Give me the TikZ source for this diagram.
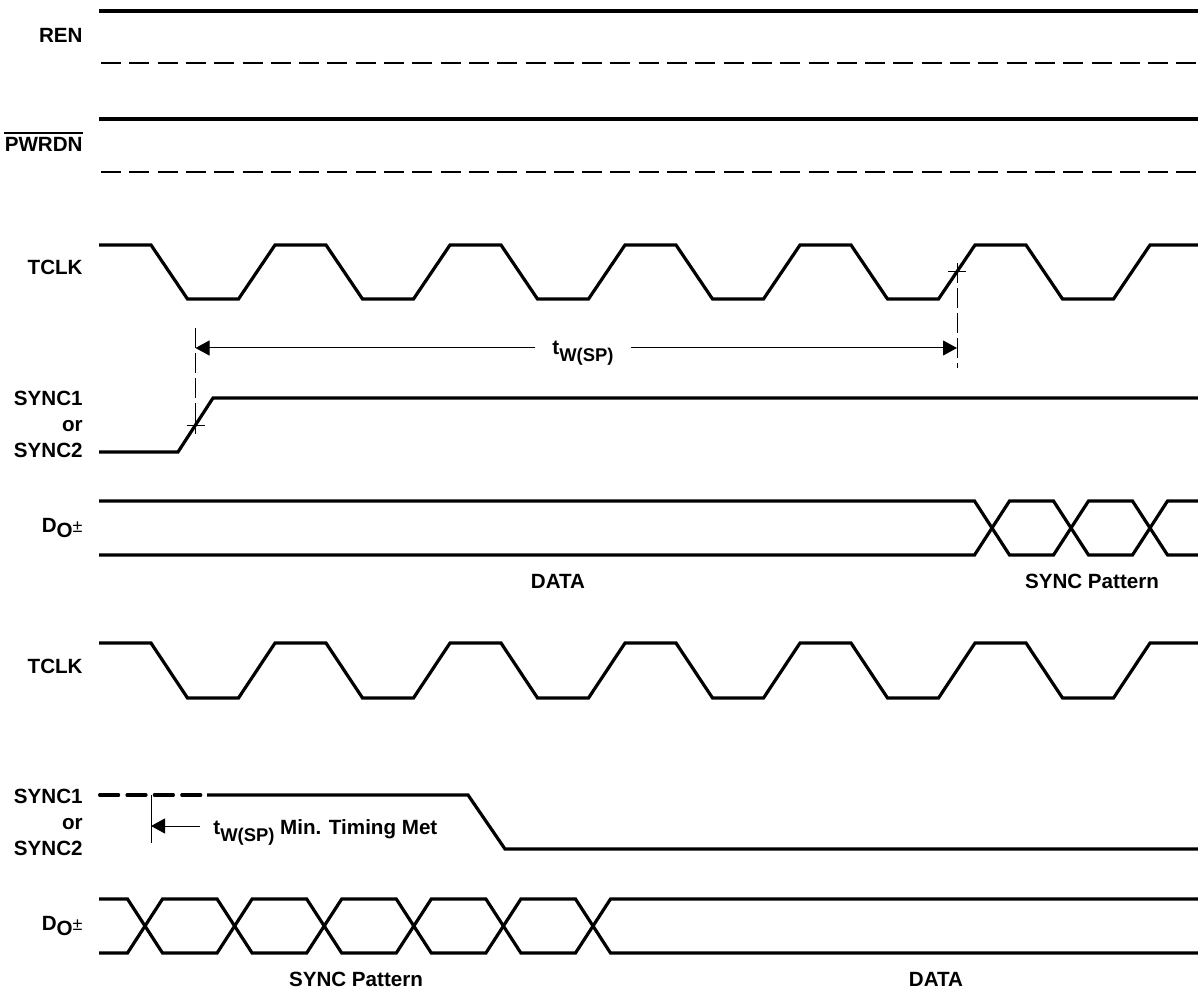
\documentclass[tikz,border=0pt]{standalone}
\usepackage{fontspec}
\setmainfont{Liberation Sans}
\usetikzlibrary{arrows.meta,positioning,calc}
\newcommand{\lblfont}{\bfseries\fontsize{10.3}{12}\selectfont}
\newcommand{\twsp}{t\raisebox{-3.5pt}{\fontsize{9.2}{10}\selectfont W(SP)}}
\newcommand{\dout}{D\raisebox{-2.6pt}{O}{\mdseries\fontsize{9}{10}\selectfont ±}}

\begin{document}
\begin{tikzpicture}[x=0.5pt,y=-0.5pt,
    sig/.style={line width=1.6pt},
    refline/.style={line width=0.7pt,dash pattern=on 10pt off 4.15pt},
    guide/.style={line width=0.5pt,dash pattern=on 10pt off 2.5pt},
    dim/.style={line width=0.5pt,-{Triangle[length=7pt,width=7.5pt]}},
    lbl/.style={font=\lblfont,anchor=base east,inner sep=0pt},
    caption/.style={font=\lblfont,anchor=base,inner sep=0pt}]
  \useasboundingbox (0,0) rectangle (1198,994);

  % enable lines
  \node[lbl] (ren) at (83,43) {REN};
  \draw[sig] (99,11) -- (1198,11);
  \draw[refline] (101,63) -- (1198,63);
  \node[lbl] (pwrdn) at (83,152) {PWRDN};
  \draw[line width=1.2pt] ([yshift=2.2pt]pwrdn.north west) -- ([yshift=2.2pt]pwrdn.north east);
  \draw[sig] (99,119) -- (1198,119);
  \draw[refline] (101,172) -- (1198,172);

  % first case: SYNC asserted
  \node[lbl] (tclka) at (83,275) {TCLK};
  \draw[sig] (99,245) foreach \k in {0,...,5} {
      -- ({151+175*\k},245) -- ({187.5+175*\k},299)
      -- ({238.5+175*\k},299) -- ({275+175*\k},245)} -- (1198,245);

  \node[lbl] (synca1) at (83,405) {SYNC1};
  \node[lbl] (synca0) at (83,431) {or};
  \node[lbl] (synca2) at (83,457) {SYNC2};
  \draw[sig] (99,452) -- (178,452) -- (213,398) -- (1198,398);

  \coordinate (syncedge) at (195.5,425);
  \coordinate (clkedge) at (957,272);
  \draw[guide] (syncedge |- 0,328) -- (syncedge |- 0,434);
  \draw[guide] (clkedge |- 0,263) -- (clkedge |- 0,368);
  \draw[line width=0.5pt] ([xshift=-4.5pt]syncedge) -- ([xshift=4.5pt]syncedge);
  \draw[line width=0.5pt] ([xshift=-4.5pt]clkedge) -- ([xshift=4.5pt]clkedge);
  \coordinate (twl) at (195.5,348);
  \coordinate (twr) at (957,348);
  \node[caption,inner xsep=8.5pt] (tw) at (583,355) {\twsp};
  \draw[dim] (tw.west |- twl) -- (twl);
  \draw[dim] (tw.east |- twr) -- (twr);

  \node[lbl] (doa) at (83,532) {\dout};
  \draw[sig] (99,501) -- (974.5,501) -- (1009.5,555) -- (1053.5,555)
    -- (1088.5,501) -- (1132.5,501) -- (1167.5,555) -- (1198,555);
  \draw[sig] (99,555) -- (974.5,555) -- (1009.5,501) -- (1053.5,501)
    -- (1088.5,555) -- (1132.5,555) -- (1167.5,501) -- (1198,501);
  \node[caption] (dataa) at (558,588) {DATA};
  \node[caption] (patterna) at (1092,588) {SYNC Pattern};

  % second case: SYNC released
  \node[lbl] (tclkb) at (83,673) {TCLK};
  \draw[sig] (99,643) foreach \k in {0,...,5} {
      -- ({151+175*\k},643) -- ({187.5+175*\k},698)
      -- ({238.5+175*\k},698) -- ({275+175*\k},643)} -- (1198,643);

  \node[lbl] (syncb1) at (83,803) {SYNC1};
  \node[lbl] (syncb0) at (83,829) {or};
  \node[lbl] (syncb2) at (83,855) {SYNC2};
  \draw[sig,line cap=round,dash pattern=on 9.5pt off 4.2pt] (99.6,795) -- (203,795);
  \draw[sig] (207,795) -- (468,795) -- (505,849) -- (1198,849);

  \coordinate (minl) at (151,826);
  \draw[line width=0.5pt] (minl |- 0,795) -- (minl |- 0,843);
  \node[font=\lblfont,anchor=base west,inner ysep=0pt,inner xsep=6.5pt] (twmin) at (200,834)
    {\twsp{} Min. Timing Met};
  \draw[dim] (twmin.west |- minl) -- (minl);

  \node[lbl] (dob) at (83,930) {\dout};
  \draw[sig] (99,899) -- (127.5,899) -- (162.5,953) -- (217.1,953) -- (252.1,899)
    -- (306.7,899) -- (341.7,953) -- (396.3,953) -- (431.3,899) -- (485.9,899)
    -- (520.9,953) -- (575.5,953) -- (610.5,899) -- (1198,899);
  \draw[sig] (99,953) -- (127.5,953) -- (162.5,899) -- (217.1,899) -- (252.1,953)
    -- (306.7,953) -- (341.7,899) -- (396.3,899) -- (431.3,953) -- (485.9,953)
    -- (520.9,899) -- (575.5,899) -- (610.5,953) -- (1198,953);
  \node[caption] (patternb) at (356,986) {SYNC Pattern};
  \node[caption] (datab) at (936,986) {DATA};
\end{tikzpicture}
\end{document}
